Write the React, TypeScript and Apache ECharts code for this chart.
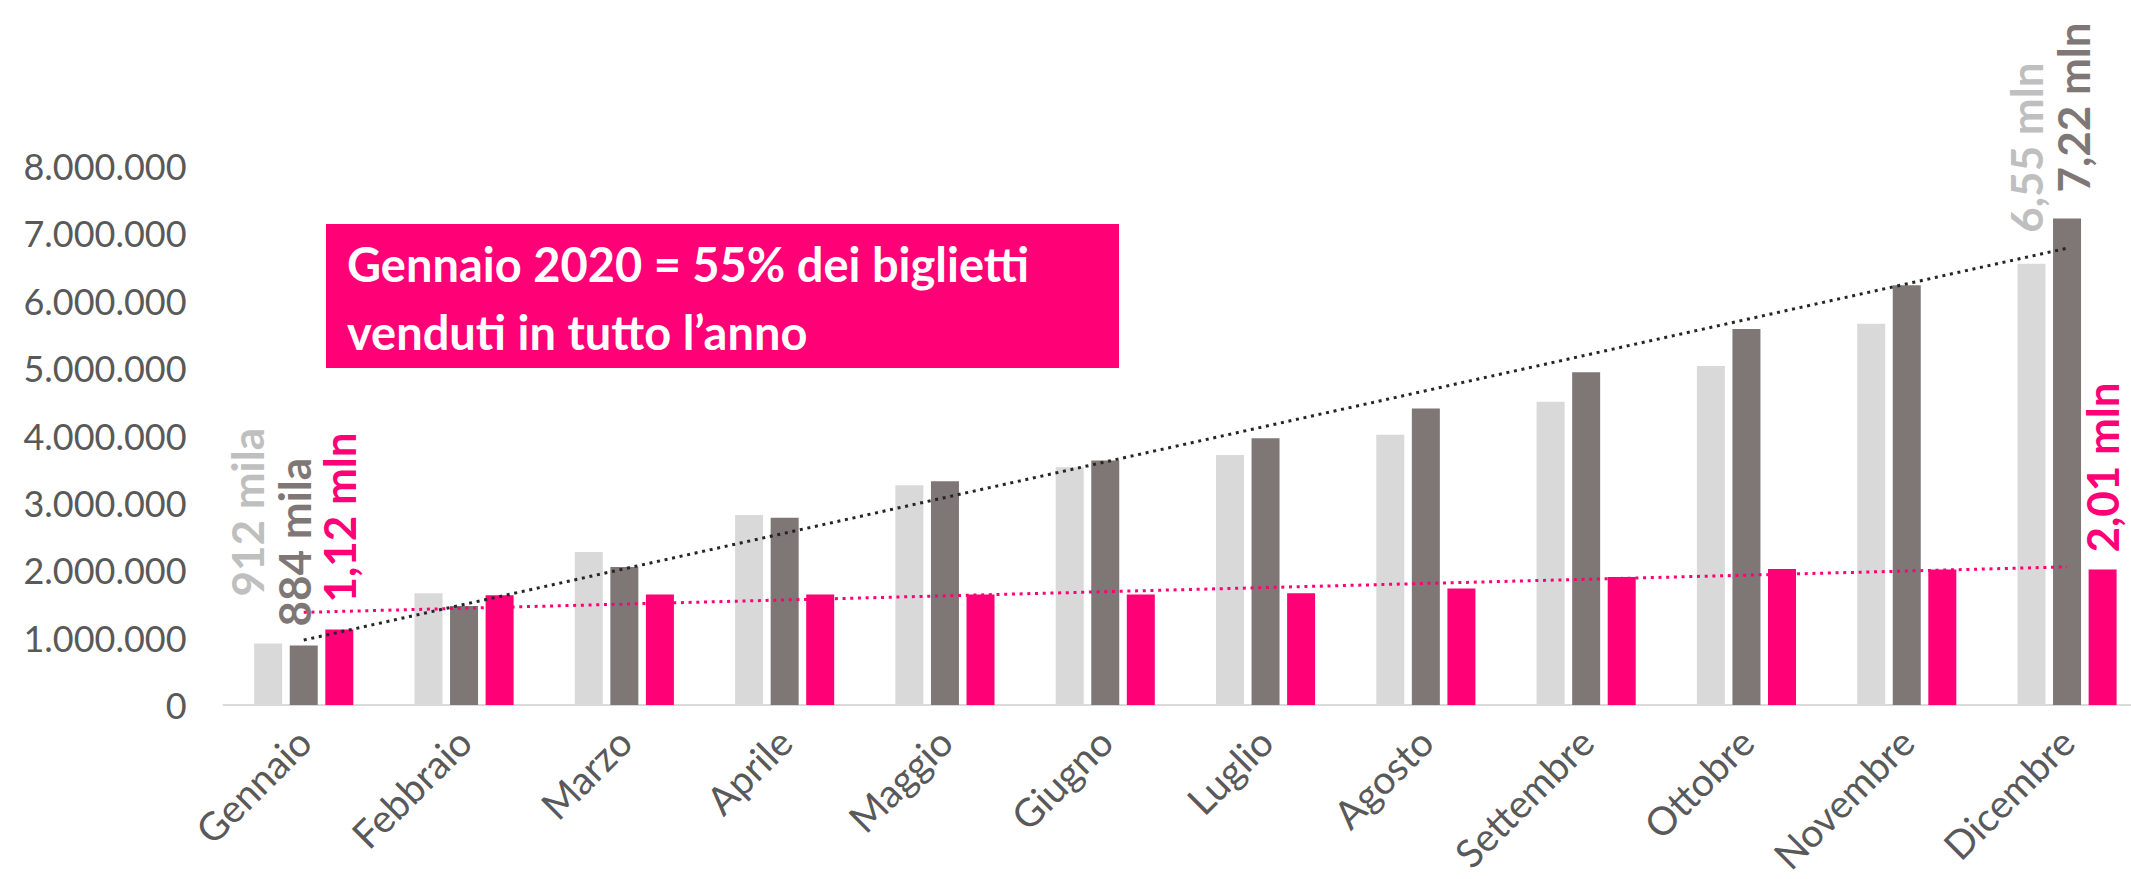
import React, { useEffect, useRef } from "react";
import * as echarts from "echarts";

// ---- data ----
const months = [
  "Gennaio", "Febbraio", "Marzo", "Aprile", "Maggio", "Giugno",
  "Luglio", "Agosto", "Settembre", "Ottobre", "Novembre", "Dicembre",
];
const seriesNames = ["2018", "2019", "2020"];
const values2018 = [912000, 1660000, 2270000, 2820000, 3260000, 3530000, 3710000, 4010000, 4500000, 5030000, 5660000, 6550000];
const values2019 = [884000, 1470000, 2050000, 2780000, 3320000, 3630000, 3960000, 4400000, 4940000, 5580000, 6230000, 7220000];
const values2020 = [1120000, 1630000, 1640000, 1640000, 1640000, 1640000, 1660000, 1730000, 1900000, 2020000, 2010000, 2010000];
// linear trendlines: value at first and last month
const trend2019 = [964000, 6780000];
const trend2020 = [1375000, 2050000];
const firstLabels = ["912 mila", "884 mila", "1,12 mln"];
const lastLabels = ["6,55 mln", "7,22 mln", "2,01 mln"];
const yMax = 8000000;
const yStep = 1000000;
const noteLines = ["Gennaio 2020 = 55% dei biglietti", "venduti in tutto l\u2019anno"];

// ---- styles ----
const colors = ["#d9d9d9", "#7f7776", "#ff0077"];
const labelColors = ["#bfbfbf", "#7f7776", "#ff0077"];
const labelTweaks = [
  { first: { dx: -21, dist: 47 }, last: { dx: -5, dist: 31 } },
  { first: { dx: -10, dist: 19 }, last: { dx: 6, dist: 26 } },
  { first: { dx: 0, dist: 27 }, last: { dx: -1, dist: 17 } },
];
const FONT = "Lato, 'Noto Sans', sans-serif";

function fmtThousands(v: number): string {
  return String(Math.round(v)).replace(/\B(?=(\d{3})+(?!\d))/g, ".");
}

function barData(values: number[], si: number) {
  return values.map((v, i) => {
    const isFirst = i === 0;
    const isLast = i === values.length - 1;
    if (!isFirst && !isLast) return v;
    const t = isFirst ? labelTweaks[si].first : labelTweaks[si].last;
    const text = isFirst ? firstLabels[si] : lastLabels[si];
    return {
      value: v,
      label: {
        show: true,
        formatter: text,
        distance: t.dist,
        offset: [0, t.dx],
      },
    };
  });
}

function trendData(ends: number[]) {
  return months.map((_, i) => (i === 0 ? ends[0] : i === months.length - 1 ? ends[1] : null));
}

export default function App() {
  const ref = useRef<HTMLDivElement>(null);
  useEffect(() => {
    if (!ref.current) return;
    const chart = echarts.init(ref.current, undefined, { renderer: "svg" });
    const allValues = [values2018, values2019, values2020];
    const barSeries = allValues.map((vals, si) => ({
      type: "bar",
      name: seriesNames[si],
      data: barData(vals, si),
      barWidth: 28,
      barGap: "27%",
      itemStyle: { color: colors[si] },
      label: {
        show: false,
        position: "top",
        rotate: 90,
        align: "left",
        verticalAlign: "middle",
        fontFamily: FONT,
        fontSize: 44,
        fontWeight: "bold",
        color: labelColors[si],
      },
      z: 2,
    }));
    const trendSeries = [
      { ends: trend2019, color: "#262626" },
      { ends: trend2020, color: "#ff0077" },
    ].map((t, k) => ({
      type: "line",
      name: "trend" + k,
      data: trendData(t.ends),
      connectNulls: true,
      symbol: "none",
      silent: true,
      lineStyle: { color: t.color, width: 3, type: [3, 4.7] },
      z: 5,
    }));

    chart.setOption({
      animation: false,
      backgroundColor: "#ffffff",
      grid: {
        left: 223.6,
        top: 166,
        width: 1923.6,
        height: 539,
        containLabel: false,
        outerBoundsMode: "none",
      },
      xAxis: {
        type: "category",
        data: months,
        axisLine: { show: true, lineStyle: { color: "#d9d9d9", width: 2 } },
        axisTick: { show: false },
        axisLabel: {
          interval: 0,
          rotate: 45,
          margin: 30,
          fontFamily: FONT,
          fontSize: 39,
          color: "#595959",
        },
      },
      yAxis: {
        type: "value",
        min: 0,
        max: yMax,
        interval: yStep,
        axisLine: { show: false },
        axisTick: { show: false },
        splitLine: { show: false },
        axisLabel: {
          margin: 37,
          fontFamily: FONT,
          fontSize: 36,
          color: "#595959",
          formatter: (v: number) => fmtThousands(v),
        },
      },
      series: [...barSeries, ...trendSeries],
      graphic: [
        {
          type: "rect",
          shape: { x: 326, y: 224, width: 793, height: 144 },
          style: { fill: "#ff0077" },
          z: 10,
        },
        {
          type: "text",
          x: 347,
          y: 264,
          style: {
            text: noteLines[0],
            fill: "#ffffff",
            fontFamily: FONT,
            fontSize: 47,
            fontWeight: "bold",
            verticalAlign: "middle",
          },
          z: 11,
        },
        {
          type: "text",
          x: 347,
          y: 332,
          style: {
            text: noteLines[1],
            fill: "#ffffff",
            fontFamily: FONT,
            fontSize: 47,
            fontWeight: "bold",
            verticalAlign: "middle",
          },
          z: 11,
        },
      ],
    });
    return () => chart.dispose();
  }, []);
  return (
    <div
      ref={ref}
      style={{ position: "fixed", left: 0, top: 0, width: 2131, height: 879 }}
    />
  );
}
